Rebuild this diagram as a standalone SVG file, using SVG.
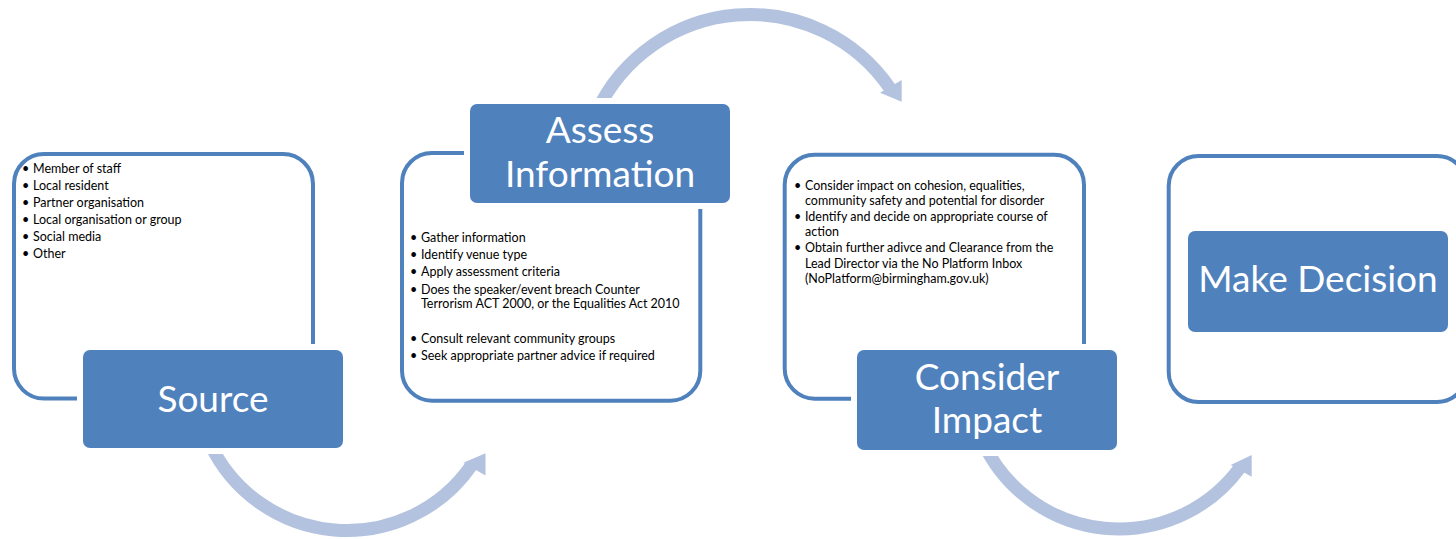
<svg xmlns="http://www.w3.org/2000/svg" width="1456" height="539" viewBox="0 0 1456 539">
<style>
.outline{fill:none;stroke:#4f81bd;stroke-width:4}
.tbox{fill:#4f81bd;stroke:#ffffff;stroke-width:12;paint-order:stroke}
.title{font-family:Lato,"Open Sans",sans-serif;font-size:37px;fill:#ffffff;text-anchor:middle}
.body{font-family:Lato,"Open Sans",sans-serif;font-size:12.5px;fill:#000000}
.arc{fill:none;stroke:#b3c3df;stroke-width:13}
.head{fill:#b3c3df}
</style>
<rect x="0" y="0" width="1456" height="539" fill="#ffffff"/>
<g id="connectors">
  <path class="arc" d="M209.7,443 A151.5,151.5 0 0 0 471.4,465.5"/>
  <polygon class="head" points="463.3,462.7 485.5,453.3 485.5,475.5"/>
  <path class="arc" d="M596.4,112.4 A169.5,169.5 0 0 1 890.2,88.7"/>
  <polygon class="head" points="880,92.7 901.7,80 901.7,101.7"/>
  <path class="arc" d="M983.1,442.4 A150,150 0 0 0 1240,467.6"/>
  <polygon class="head" points="1230.7,465 1251.7,455 1251.7,476.7"/>
</g>
<g id="node-source">
  <rect class="outline" x="14" y="154" width="299" height="244.6" rx="30"/>
  <g class="body">
    <text x="22" y="173">•<tspan x="33">Member of staff</tspan></text>
    <text x="22" y="190">•<tspan x="33">Local resident</tspan></text>
    <text x="22" y="207">•<tspan x="33">Partner organisation</tspan></text>
    <text x="22" y="224">•<tspan x="33">Local organisation or group</tspan></text>
    <text x="22" y="241">•<tspan x="33">Social media</tspan></text>
    <text x="22" y="258">•<tspan x="33">Other</tspan></text>
  </g>
  <rect class="tbox" x="83" y="350" width="260" height="98" rx="7"/>
  <text class="title" x="213" y="412">Source</text>
</g>
<g id="node-assess">
  <rect class="outline" x="402" y="153" width="298.3" height="247.7" rx="30"/>
  <g class="body">
    <text x="410" y="242">•<tspan x="421">Gather information</tspan></text>
    <text x="410" y="259">•<tspan x="421">Identify venue type</tspan></text>
    <text x="410" y="276">•<tspan x="421">Apply assessment criteria</tspan></text>
    <text x="410" y="294">•<tspan x="421">Does the speaker/event breach Counter</tspan></text>
    <text x="421" y="308">Terrorism ACT 2000, or the Equalities Act 2010</text>
    <text x="410" y="343">•<tspan x="421">Consult relevant community groups</tspan></text>
    <text x="410" y="360">•<tspan x="421">Seek appropriate partner advice if required</tspan></text>
  </g>
  <rect class="tbox" x="470" y="104" width="260" height="99" rx="7"/>
  <text class="title" x="600" y="143.3">Assess</text>
  <text class="title" x="600" y="187.3">Information</text>
</g>
<g id="node-consider">
  <rect class="outline" x="784.7" y="154.7" width="299.3" height="244" rx="30"/>
  <g class="body">
    <text x="794" y="190">•<tspan x="805">Consider impact on cohesion, equalities,</tspan></text>
    <text x="805" y="205">community safety and potential for disorder</text>
    <text x="794" y="221">•<tspan x="805">Identify and decide on appropriate course of</tspan></text>
    <text x="805" y="236">action</text>
    <text x="794" y="252">•<tspan x="805">Obtain further adivce and Clearance from the</tspan></text>
    <text x="805" y="268">Lead Director via the No Platform Inbox</text>
    <text x="805" y="283">(NoPlatform@birmingham.gov.uk)</text>
  </g>
  <rect class="tbox" x="857" y="350" width="260" height="100" rx="7"/>
  <text class="title" x="987" y="390">Consider</text>
  <text class="title" x="987" y="433">Impact</text>
</g>
<g id="node-decision">
  <rect class="outline" x="1168.7" y="156" width="298.3" height="246" rx="30"/>
  <rect class="tbox" x="1188" y="231" width="260" height="101" rx="7"/>
  <text class="title" x="1318" y="292">Make Decision</text>
</g>
</svg>
